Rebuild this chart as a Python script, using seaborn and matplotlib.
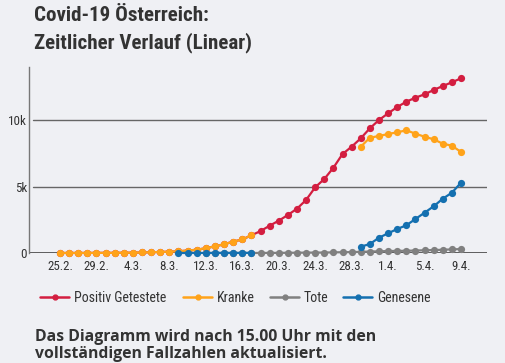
import numpy as np
import pandas as pd
import matplotlib
matplotlib.use("Agg")
import matplotlib.pyplot as plt
from matplotlib import font_manager as fm
import seaborn as sns

dates = ["25.2.", "26.2.", "27.2.", "28.2.", "29.2."] + [f"{d}.3." for d in range(1, 32)] + [f"{d}.4." for d in range(1, 10)]
tick_labels = ["25.2.", "29.2.", "4.3.", "8.3.", "12.3.", "16.3.", "20.3.", "24.3.", "28.3.", "1.4.", "5.4.", "9.4."]

positiv = [2, 2, 3, 3, 9, 10, 10, 18, 24, 41, 55, 79, 99, 131, 182, 246, 361, 504, 655, 860,
           1016, 1332, 1646, 2053, 2429, 2857, 3331, 3985, 4940, 5564, 6414, 7444, 7992,
           8624, 9376, 10000, 10501, 10977, 11376, 11677, 11932, 12256, 12556, 12834, 13135]
nan = np.nan
kranke = positiv[:22] + [nan] * 11 + [7992, 8669, 8797, 8947, 9075, 9226, 8970, 8744, 8549, 8218, 8068, 7594]
tote = [nan] * 16 + [1, 1, 1, 1, 1, 3, 3, 6, 8, 16, 21, 28, 30, 34, 49, 58, 68, 86, 108, 128,
                     146, 158, 168, 186, 204, 220, 243, 273, 295]
genesene = [nan] * 13 + [2, 2, 4, 4, 6, 6, 6, 8, 9] + [nan] * 11 + \
           [474, 677, 1150, 1481, 1805, 2083, 2556, 3030, 3511, 4083, 4534, 5286]

series_names = ["Positiv Getestete", "Kranke", "Tote", "Genesene"]
colors = ["#d31e40", "#ffa31a", "#808080", "#1470b0"]

rows = []
for name, vals in zip(series_names, [positiv, kranke, tote, genesene]):
    seg = 0
    prev_nan = True
    for i, v in enumerate(vals):
        if isinstance(v, float) and np.isnan(v):
            prev_nan = True
            continue
        if prev_nan:
            seg += 1
            prev_nan = False
        rows.append({"day": i, "value": v, "series": name, "seg": f"{name}-{seg}"})
df = pd.DataFrame(rows)

sns.set_theme(style="white")


def find_font(bold):
    prefs = ["robotocondensed", "opensanscondensed", "liberationsansnarrow", "dejavusanscondensed", "notosanscondensed"]
    files = []
    for f in fm.fontManager.ttflist:
        fn = f.fname.lower().replace("-", "").replace("_", "").replace(" ", "")
        base = fn.split("/")[-1]
        if "italic" in base or "oblique" in base:
            continue
        isbold = ("bold" in base) and ("semibold" not in base) and ("extrabold" not in base)
        if bold != isbold:
            continue
        if not bold and any(w in base for w in ["light", "thin", "medium", "black", "semibold", "extrabold"]):
            continue
        for rank, p in enumerate(prefs):
            if p in base:
                files.append((rank, f.fname))
    if files:
        files.sort()
        return fm.FontProperties(fname=files[0][1])
    return fm.FontProperties(family="Roboto", weight="bold" if bold else "normal")


fp_reg = find_font(False)
fp_bold = find_font(True)

bg = "#eff0f4"
text_col = "#333333"
W, H = 505, 363

fig = plt.figure(figsize=(5.05, 3.63), dpi=100, facecolor=bg)
ax = fig.add_axes([29 / W, (H - 253) / H, (487 - 29) / W, (253 - 66.8) / H])
ax.set_facecolor(bg)

sns.lineplot(data=df, x="day", y="value", hue="series", units="seg", estimator=None,
             hue_order=series_names, palette=colors, marker="o", markersize=5.2,
             markeredgewidth=0, linewidth=1.6, ax=ax, legend=False, clip_on=False)

ax.set_xlim(-3.4, 46.85)
ax.set_ylim(0, 14000)
ax.set_xticks([0, 4, 8, 12, 16, 20, 24, 28, 32, 36, 40, 44])
ax.set_xticklabels(tick_labels, color=text_col)
ax.set_yticks([0, 5000, 10000])
ax.set_yticklabels(["0", "5k", "10k"], color=text_col)
for lab in ax.get_xticklabels() + ax.get_yticklabels():
    lab.set_fontproperties(fp_reg)
    lab.set_fontsize(9.4)
ax.tick_params(axis="x", length=0, pad=5)
ax.tick_params(axis="y", length=0, pad=1.5)
ax.set_xlabel("")
ax.set_ylabel("")
for s in ["top", "right", "bottom"]:
    ax.spines[s].set_visible(False)
ax.spines["left"].set_color("#777777")
ax.spines["left"].set_linewidth(1)
for yv in [5000, 10000]:
    ax.axhline(yv, xmin=4 / 458, color="#666666", linewidth=1, zorder=0)
ax.axhline(0, color="#444444", linewidth=1.2, zorder=0)

# legend: one entry per legend box, placed like the reference
leg_size = 10
leg_px = leg_size * 100 / 72
leg_x = [40, 183, 270, 343]
for c, name, x0 in zip(colors, series_names, leg_x):
    h = plt.Line2D([], [], color=c, marker="o", markersize=3.5, linewidth=1.8)
    fig.legend([h], [name], loc="center left", bbox_to_anchor=(x0 / W, (H - 297.5) / H),
               frameon=False, handlelength=29 / leg_px, handletextpad=5 / leg_px,
               borderpad=0, borderaxespad=0,
               prop={"fname": fp_reg.get_file(), "size": leg_size}, labelcolor=text_col)

title_prop = fp_bold.copy()
title_prop.set_size(15.1)
fig.text(34 / W, (H - 20.7) / H, "Covid-19 Österreich:", fontproperties=title_prop,
         color=text_col, va="baseline")
fig.text(34 / W, (H - 48.3) / H, "Zeitlicher Verlauf (Linear)", fontproperties=title_prop,
         color=text_col, va="baseline")
fig.text(35 / W, (H - 341) / H, "Das Diagramm wird nach 15.00 Uhr mit den", fontfamily=["Open Sans", "DejaVu Sans"],
         fontweight="bold", fontsize=11.3, color=text_col, va="baseline")
fig.text(35 / W, (H - 358) / H, "vollständigen Fallzahlen aktualisiert.", fontfamily=["Open Sans", "DejaVu Sans"],
         fontweight="bold", fontsize=11.3, color=text_col, va="baseline")

fig.savefig("out.png", dpi=100, facecolor=bg)
